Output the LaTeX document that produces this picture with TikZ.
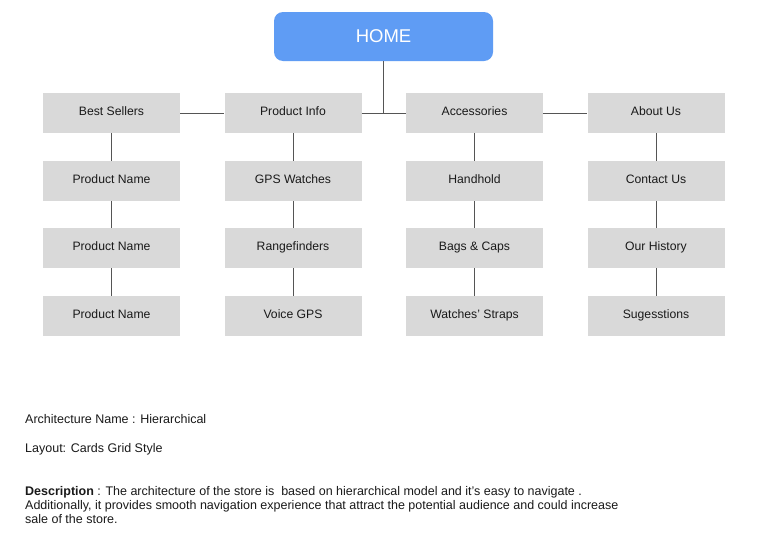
\documentclass[tikz,border=0pt]{standalone}
\usepackage{fontspec}
\setmainfont{Liberation Sans}
\definecolor{boxgray}{HTML}{D9D9D9}
\definecolor{homeblue}{HTML}{5F9CF4}
\definecolor{linegray}{HTML}{555555}
\definecolor{txt}{HTML}{1A1A1A}
\begin{document}
\begin{tikzpicture}[x=1pt,y=-1pt,
  card/.style={fill=boxgray,draw=none,minimum width=137pt,minimum height=40pt,inner sep=0pt,text height=8.5pt,text depth=4.5pt,font=\fontsize{12.2}{14}\selectfont,text=txt},
  homebox/.style={fill=homeblue,draw=none,rounded corners=9pt,minimum width=219pt,minimum height=49pt,inner sep=0pt,font=\fontsize{18.5}{20}\selectfont,text=white},
  conn/.style={draw=linegray,line width=0.9pt},
  note/.style={anchor=base west,inner sep=0pt,font=\fontsize{12.5}{14}\selectfont,text=txt}]
\useasboundingbox (0,0) rectangle (768,557);
\fill[white] (0,0) rectangle (768,557);
\node[homebox] (home) at (383.5,36.5) {HOME};
% column 1
\node[card] (bs) at (111.5,113) {Best Sellers};
\node[card] (pn1) at (111.5,181) {Product Name};
\node[card] (pn2) at (111.5,248) {Product Name};
\node[card] (pn3) at (111.5,316) {Product Name};
% column 2
\node[card] (pi) at (293,113) {Product Info};
\node[card] (gps) at (293,181) {GPS Watches};
\node[card] (rf) at (293,248) {Rangefinders};
\node[card] (vg) at (293,316) {Voice GPS};
% column 3
\node[card] (acc) at (474.5,113) {Accessories};
\node[card] (hh) at (474.5,181) {Handhold};
\node[card] (bc) at (474.5,248) {Bags \& Caps};
\node[card] (ws) at (474.5,316) {Watches’ Straps};
% column 4
\node[card] (au) at (656,113) {About Us};
\node[card] (cu) at (656,181) {Contact Us};
\node[card] (oh) at (656,248) {Our History};
\node[card] (sg) at (656,316) {Sugesstions};
% connectors
\draw[conn] (home.south) -- (home.south |- acc.west);
\draw[conn] (bs) -- (pi);
\draw[conn] (pi) -- (acc);
\draw[conn] (acc) -- (au);
\foreach \a/\b in {bs/pn1,pn1/pn2,pn2/pn3,pi/gps,gps/rf,rf/vg,acc/hh,hh/bc,bc/ws,au/cu,cu/oh,oh/sg}
  \draw[conn] (\a) -- (\b);
% notes
\node[note] (n1) at (25,423) {Architecture Name : Hierarchical};
\node[note] (n2) at (25,452) {Layout: Cards Grid Style};
\node[note] (d1) at (25,495) {\textbf{Description} : The architecture of the store is\ \ based on hierarchical model and it’s easy to navigate .};
\node[note] (d2) at (25,509) {Additionally, it provides smooth navigation experience that attract the potential audience and could increase};
\node[note] (d3) at (25,523) {sale of the store.};
\end{tikzpicture}
\end{document}
